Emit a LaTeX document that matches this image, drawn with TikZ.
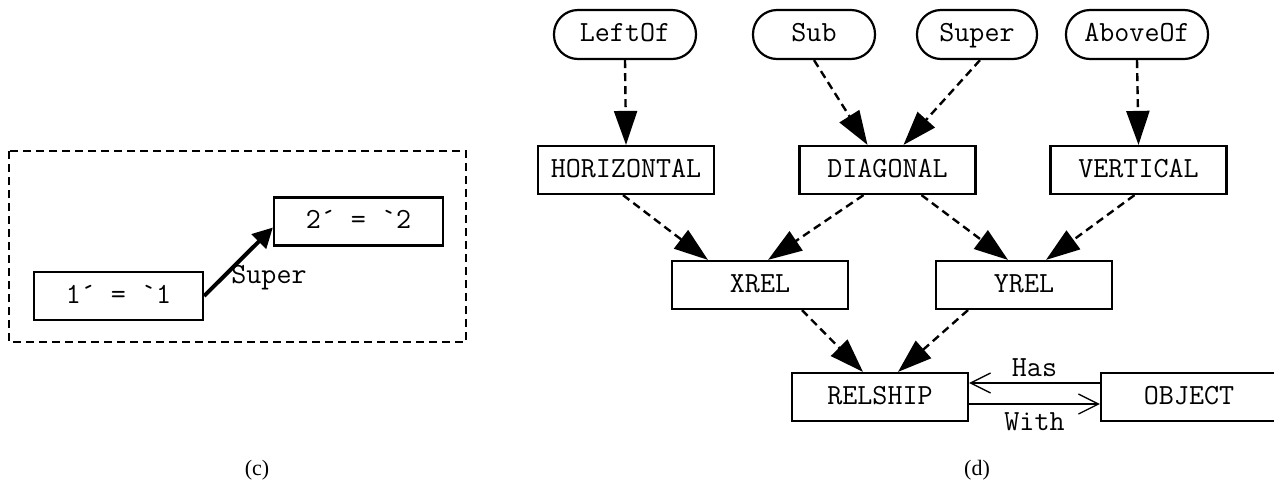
\documentclass[tikz,border=0pt]{standalone}
\usepackage{fontspec}
\setmainfont{Liberation Serif}
\usetikzlibrary{arrows.meta}
\begin{document}
\begin{tikzpicture}[x=0.5pt,y=-0.5pt,
  lbl/.style={font=\ttfamily\fontsize{14.6}{16}\selectfont},
  box/.style={lbl,draw,line width=1.1pt,minimum width=88pt,minimum height=24pt,
    inner sep=0pt,text height=8.6pt,text depth=1.4pt},
  pill/.style={box,rounded corners=12pt,minimum height=24.5pt},
  dep/.style={line width=1.2pt,dash pattern=on 4pt off 2.5pt,-{Triangle[length=17pt,width=11.5pt]}},
  rel/.style={line width=0.65pt,-{Straight Barb[length=10pt,width=10pt,line width=0.65pt]}},
  strong/.style={line width=2pt,-{Triangle[length=10pt,width=10pt]}},
  frame/.style={line width=1.1pt,dash pattern=on 4pt off 2.5pt},
  caption/.style={font=\fontsize{11}{13}\selectfont}]
\useasboundingbox (0,0) rectangle (1274,483);

% (c): a single Super step inside a dashed frame
\draw[frame] (9,151) rectangle (466,342);
\node[box,minimum width=84.5pt] (b1) at (118.5,296) {1´ = `1};
\node[box,minimum width=84.5pt] (b2) at (358.5,221.5) {2´ = `2};
\draw[strong] (b1.east) -- ([yshift=-3pt]b2.west);
\node[lbl] (superlbl) at (269,278) {Super};
\node[caption] (capc) at (257,470) {(c)};

% (d): relation hierarchy
\node[pill,minimum width=71pt] (leftof) at (625,34.5) {LeftOf};
\node[pill,minimum width=61pt] (sub) at (814,34.5) {Sub};
\node[pill,minimum width=60pt] (super) at (977,34.5) {Super};
\node[pill,minimum width=71pt] (aboveof) at (1137,34.5) {AboveOf};
\node[box] (horiz) at (626,170) {HORIZONTAL};
\node[box] (diag) at (887.5,170) {DIAGONAL};
\node[box] (vert) at (1138.5,170) {VERTICAL};
\node[box] (xrel) at (760,285) {XREL};
\node[box] (yrel) at (1024,285) {YREL};
\node[box] (relship) at (880,397) {RELSHIP};
\node[box] (object) at (1189,397) {OBJECT};

\draw[dep] (leftof.south) -- (horiz.north);
\draw[dep] (sub.south) -- ([xshift=-10pt]diag.north);
\draw[dep] ([xshift=1.5pt]super.south) -- ([xshift=8pt]diag.north);
\draw[dep] (aboveof.south) -- (vert.north);
\draw[dep] ([xshift=-1.5pt]horiz.south) -- ([xshift=-26pt]xrel.north);
\draw[dep] ([xshift=-12pt]diag.south) -- ([xshift=4pt]xrel.north);
\draw[dep] ([xshift=17pt]diag.south) -- ([xshift=-8pt]yrel.north);
\draw[dep] ([xshift=-2pt]vert.south) -- ([xshift=11pt]yrel.north);
\draw[dep] ([xshift=21pt]xrel.south) -- ([xshift=-8.5pt]relship.north);
\draw[dep] ([xshift=-28pt]yrel.south) -- ([xshift=9pt]relship.north);

\draw[rel] ([yshift=7pt]object.west) -- ([yshift=7pt]relship.east)
  node[lbl,midway,anchor=south,inner sep=3pt] (has) {Has};
\draw[rel] ([yshift=-3.5pt]relship.east) -- ([yshift=-3.5pt]object.west)
  node[lbl,midway,anchor=north,inner sep=4pt] (with) {With};

\node[caption] (capd) at (977,470) {(d)};
\end{tikzpicture}
\end{document}
